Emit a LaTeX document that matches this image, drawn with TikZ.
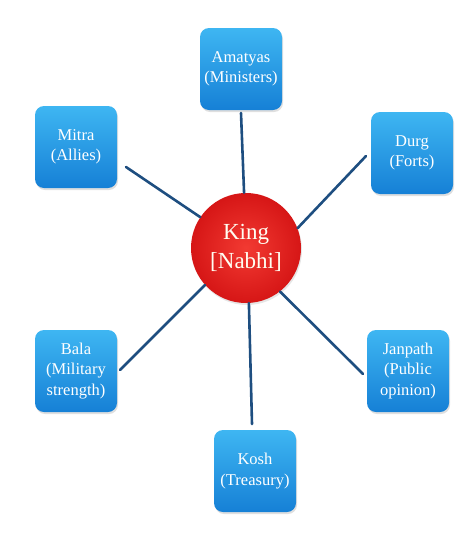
\documentclass[tikz,border=0pt]{standalone}
\usepackage{fontspec}
\setmainfont{Liberation Serif}
\usetikzlibrary{shadows}
\definecolor{boxtop}{RGB}{62,182,242}
\definecolor{boxbot}{RGB}{22,128,214}
\definecolor{linkblue}{RGB}{30,78,128}
\definecolor{redin}{RGB}{242,58,50}
\definecolor{redout}{RGB}{214,22,22}
\tikzset{
  pillar/.style={draw=none, rounded corners=9pt, minimum width=82pt, minimum height=82pt,
    inner sep=1pt, top color=boxtop, bottom color=boxbot, text=white, align=center,
    font=\fontsize{16.5}{20.5}\selectfont,
    drop shadow={opacity=0.25, shadow xshift=1pt, shadow yshift=-2pt}},
  kingnode/.style={circle, minimum size=110pt, inner sep=0pt, draw=none,
    inner color=redin, outer color=redout, text=white!95!yellow, align=center,
    font=\fontsize{23}{29}\selectfont,
    drop shadow={opacity=0.2, shadow xshift=1pt, shadow yshift=-2pt}},
  link/.style={draw=linkblue, line width=2.6pt, line cap=round}
}
\begin{document}
\begin{tikzpicture}[x=1pt,y=-1pt]
\useasboundingbox (0,0) rectangle (474,536);
\node[kingnode] (king) at (246,248) {King\\{}[Nabhi]};
\node[pillar] (amatyas) at (241,69) {Amatyas\\(Ministers)};
\node[pillar] (durg) at (412,153) {Durg\\(Forts)};
\node[pillar] (mitra) at (76,147) {Mitra\\(Allies)};
\node[pillar] (bala) at (76,371) {Bala\\(Military\\strength)};
\node[pillar] (janpath) at (408,371) {Janpath\\(Public\\opinion)};
\node[pillar] (kosh) at (255,471) {Kosh\\(Treasury)};
\coordinate (amatyasEnd) at (241,113);
\coordinate (mitraEnd) at (126,167);
\coordinate (durgEnd) at (366,156);
\coordinate (balaEnd) at (120,370);
\coordinate (janpathEnd) at (363,374);
\coordinate (koshEnd) at (252,424);
\draw[link] (amatyasEnd) -- (king.92);
\draw[link] (mitraEnd) -- (king.146);
\draw[link] (durgEnd) -- (king.21);
\draw[link] (balaEnd) -- (king.222);
\draw[link] (janpathEnd) -- (king.308);
\draw[link] (koshEnd) -- (king.273);
\end{tikzpicture}
\end{document}
